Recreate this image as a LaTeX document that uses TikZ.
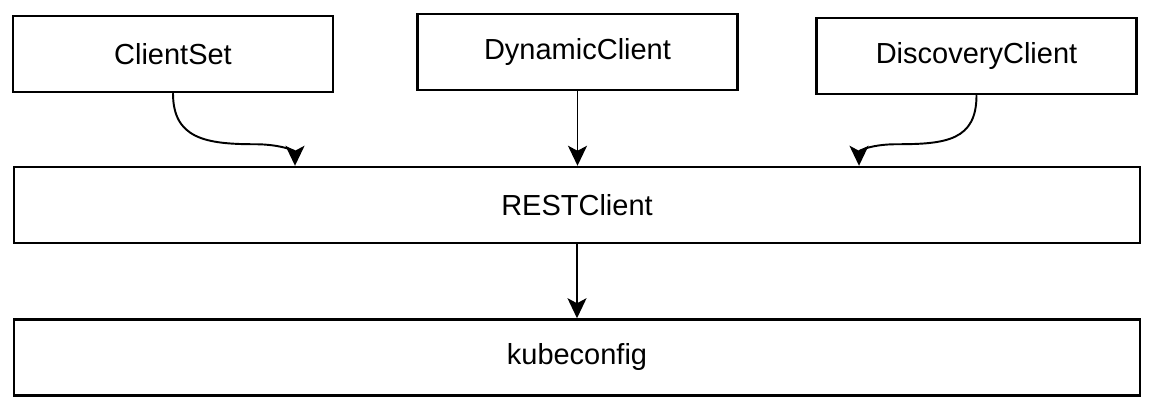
\documentclass[tikz,border=0pt]{standalone}
\usepackage{fontspec}
\setmainfont{Liberation Sans}
\usetikzlibrary{arrows.meta,positioning}

\begin{document}
\begin{tikzpicture}[
    block/.style={
        rectangle, draw=black, line width=1.4pt, fill=white,
        minimum width=6.4cm,
        minimum height=1.52cm,
        inner sep=0pt, font=\fontsize{16.5}{20}\selectfont
    },
    wide/.style={block, minimum width=22.52cm},
    link/.style={-{Stealth[length=0.4cm, width=0.38cm, inset=0.1cm]}, line width=1.1pt}
]

\useasboundingbox (0,0) rectangle (23.1,-8.16);

\def\xMain{11.54}
\def\yTop{-1.08}

\node[block] (clientset) at (3.46, \yTop) {ClientSet};
\node[block] (dynamic) at (11.55, -1.04) {DynamicClient};
\node[block] (discovery) at (19.53, -1.12) {DiscoveryClient};

\node[wide] (rest) at (\xMain, -4.10) {RESTClient};
\node[wide, below=1.48cm of rest] (kube) {kubeconfig};

\draw[link] (clientset.south) .. controls +(0,-0.9) and +(-1.0,0) .. ++(1.64,-1.02)
    .. controls +(0.5,0) and +(0,0.3) .. ([xshift=-5.64cm]rest.north);
\draw[link] (dynamic.south) -- (dynamic.south |- rest.north);
\draw[link] (discovery.south) .. controls +(0,-0.9) and +(1.0,0) .. ++(-1.6,-0.98)
    .. controls +(-0.5,0) and +(0,0.3) .. ([xshift=5.64cm]rest.north);

\draw[link] (rest) -- (kube);

\end{tikzpicture}
\end{document}
